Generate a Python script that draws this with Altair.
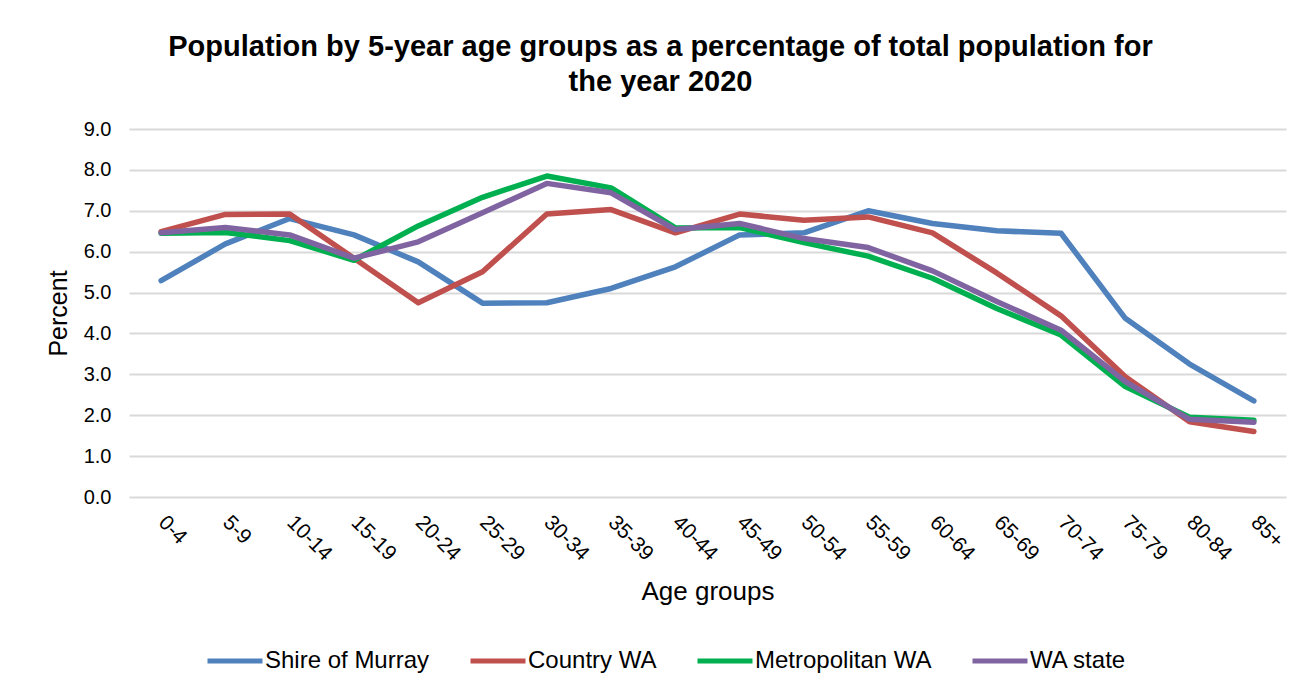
import altair as alt
import pandas as pd

age_groups = ["0-4", "5-9", "10-14", "15-19", "20-24", "25-29", "30-34", "35-39", "40-44",
              "45-49", "50-54", "55-59", "60-64", "65-69", "70-74", "75-79", "80-84", "85+"]

shire_of_murray = [5.29, 6.19, 6.81, 6.41, 5.75, 4.74, 4.75, 5.10, 5.63,
                   6.41, 6.46, 7.00, 6.69, 6.51, 6.45, 4.37, 3.25, 2.35]
country_wa = [6.49, 6.91, 6.92, 5.84, 4.75, 5.51, 6.92, 7.03, 6.46,
              6.92, 6.77, 6.85, 6.46, 5.48, 4.43, 2.94, 1.84, 1.60]
metropolitan_wa = [6.45, 6.47, 6.27, 5.79, 6.63, 7.33, 7.85, 7.56, 6.58,
                   6.59, 6.22, 5.89, 5.35, 4.61, 3.96, 2.70, 1.95, 1.88]
wa_state = [6.46, 6.59, 6.41, 5.84, 6.24, 6.95, 7.67, 7.44, 6.54,
            6.69, 6.32, 6.10, 5.53, 4.78, 4.08, 2.82, 1.90, 1.83]

series_names = ["Shire of Murray", "Country WA", "Metropolitan WA", "WA state"]
series_colors = ["#4F81BD", "#C0504D", "#00B050", "#8064A2"]
y_ticks = [0, 1, 2, 3, 4, 5, 6, 7, 8, 9]

rows = []
for name, vals in zip(series_names, [shire_of_murray, country_wa, metropolitan_wa, wa_state]):
    for i, (g, v) in enumerate(zip(age_groups, vals)):
        rows.append({"Series": name, "Age": g, "Value": v, "order": i})
df = pd.DataFrame(rows)

FONT = "Liberation Sans"

chart = alt.Chart(df).mark_line(strokeWidth=5.5, strokeCap="round", strokeJoin="round").encode(
    x=alt.X("Age:N", sort=age_groups, scale=alt.Scale(paddingInner=1, paddingOuter=0.5),
            axis=alt.Axis(title="Age groups", labelAngle=45, labelAlign="left", labelBaseline="middle",
                          labelPadding=22, ticks=False, domain=False, grid=False,
                          labelFontSize=21, titleFontSize=26, titlePadding=14,
                          titleFontWeight="normal")),
    y=alt.Y("Value:Q", scale=alt.Scale(domain=[0, 9], nice=False),
            axis=alt.Axis(title="Percent", values=y_ticks, format=".1f", ticks=False, domain=False,
                          grid=True, gridColor="#d9d9d9", gridWidth=2, labelPadding=18,
                          labelFontSize=20, titleFontSize=25, titlePadding=12,
                          titleFontWeight="normal")),
    color=alt.Color("Series:N", sort=series_names,
                    scale=alt.Scale(domain=series_names, range=series_colors),
                    legend=alt.Legend(title=None, orient="none", direction="horizontal",
                                      legendX=76, legendY=502, symbolType="stroke",
                                      symbolStrokeWidth=5, symbolSize=3025, labelFontSize=24,
                                      labelOffset=0, columnPadding=30, labelFont=FONT,
                                      labelLimit=0, labelColor="#000000")),
    order=alt.Order("order:Q"),
).properties(
    width=1157,
    height=368,
    padding={"left": 121, "top": 121, "right": 12, "bottom": 183},
    autosize=alt.AutoSizeParams(type="none"),
    title=alt.TitleParams(
        text=["Population by 5-year age groups as a percentage of total population for",
              "the year 2020"],
        fontSize=29, fontWeight="bold", font=FONT, color="#000000",
        anchor="middle", dx=-47, offset=22, lineHeight=35),
).configure_axis(
    labelFont=FONT, titleFont=FONT, labelColor="#000000", titleColor="#000000"
).configure_view(stroke=None)

chart.save("out.html", embed_options={"renderer": "svg", "actions": False})
